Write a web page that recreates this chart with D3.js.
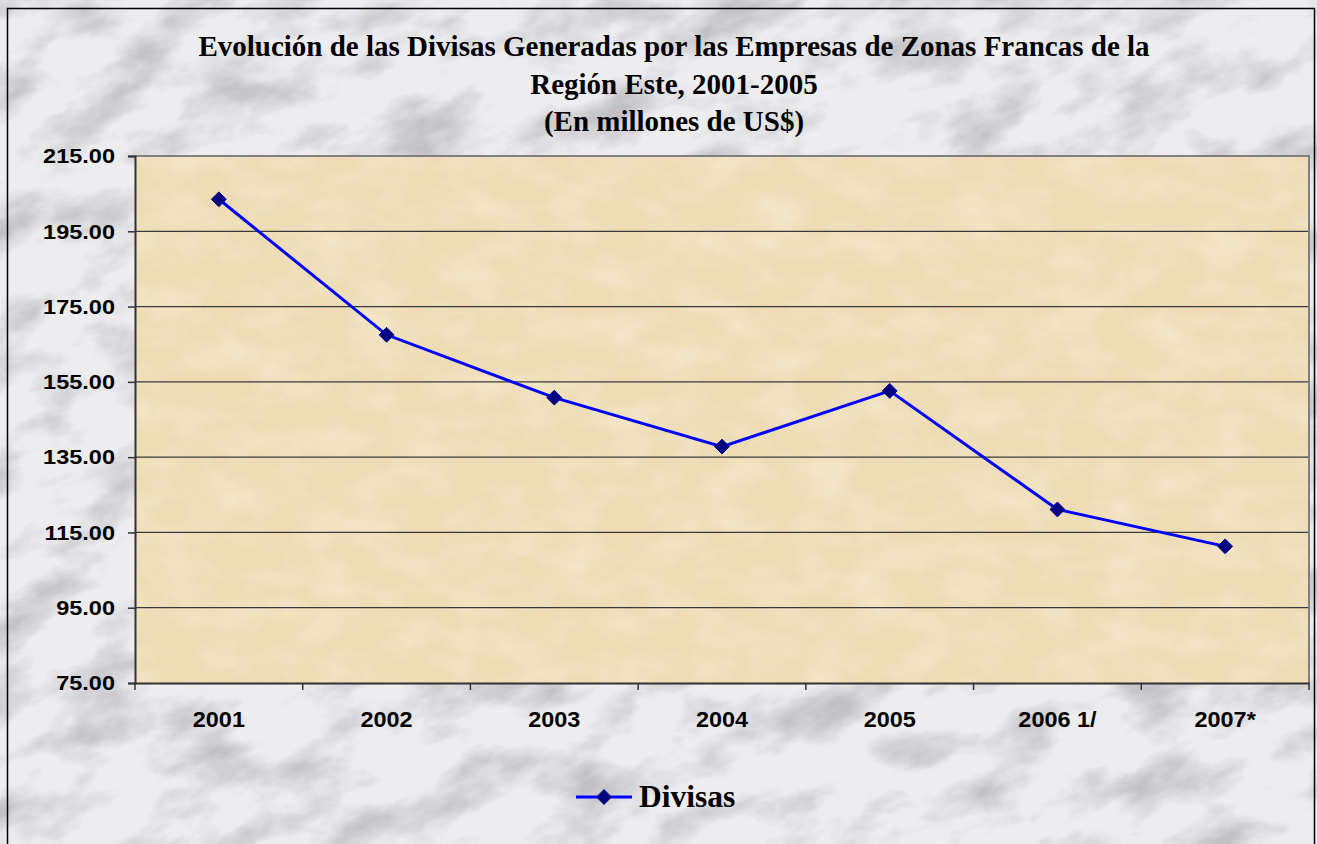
<!DOCTYPE html>
<html><head><meta charset="utf-8">
<script src="https://cdn.jsdelivr.net/npm/d3@7"></script>
<style>html,body{margin:0;padding:0;background:#fff;}svg{display:block;}</style>
</head><body>
<svg id="c" width="1317" height="844"></svg>
<script>
const categories = ["2001","2002","2003","2004","2005","2006 1/","2007*"];
const divisas = [203.5, 167.5, 150.8, 137.8, 152.6, 121.1, 111.3];
const yTicks = [75, 95, 115, 135, 155, 175, 195, 215];
const titleLines = ["Evolución de las Divisas Generadas por las Empresas de Zonas Francas de la","Región Este, 2001-2005","(En millones de US$)"];
const seriesName = "Divisas";

const svg = d3.select("#c");
const defs = svg.append("defs");
// marble texture
const fm = defs.append("filter").attr("id","marble").attr("x",0).attr("y",0).attr("width","100%").attr("height","100%");
fm.append("feTurbulence").attr("type","fractalNoise").attr("baseFrequency","0.012 0.022").attr("numOctaves",5).attr("seed",11).attr("result","n");
fm.append("feColorMatrix").attr("in","n").attr("type","matrix")
  .attr("values","0 0 0 0 0.45  0 0 0 0 0.45  0 0 0 0 0.48  -2.6 0 0 0 1.45");
// parchment texture
const fp = defs.append("filter").attr("id","parch").attr("x",0).attr("y",0).attr("width","100%").attr("height","100%");
fp.append("feTurbulence").attr("type","fractalNoise").attr("baseFrequency","0.02 0.035").attr("numOctaves",4).attr("seed",3).attr("result","n");
fp.append("feColorMatrix").attr("in","n").attr("type","matrix")
  .attr("values","0 0 0 0 0.98  0 0 0 0 0.93  0 0 0 0 0.80  -1.2 0 0 0 0.75");

svg.append("rect").attr("x",0).attr("y",0).attr("width",1317).attr("height",844).attr("fill","#ededef");
svg.append("g").attr("transform","rotate(-20 658 422)")
  .append("rect").attr("x",-300).attr("y",-300).attr("width",1917).attr("height",1444).attr("filter","url(#marble)").attr("opacity",0.75);
svg.append("rect").attr("x",7.5).attr("y",8.5).attr("width",1307).attr("height",840).attr("fill","none").attr("stroke","#000").attr("stroke-width",1.5);

const m = {l:135, t:156, r:1309, b:683};
const x = d3.scaleBand().domain(categories).range([m.l, m.r]).padding(0);
const y = d3.scaleLinear().domain([75,215]).range([m.b, m.t]);

// plot area
svg.append("rect").attr("x",m.l).attr("y",m.t).attr("width",m.r-m.l).attr("height",m.b-m.t).attr("fill","#eddcb6");
svg.append("rect").attr("x",m.l).attr("y",m.t).attr("width",m.r-m.l).attr("height",m.b-m.t).attr("filter","url(#parch)").attr("opacity",0.6);

// gridlines
svg.append("g").selectAll("line").data(yTicks.filter(d=>d>75 && d<215)).join("line")
  .attr("x1",m.l).attr("x2",m.r).attr("y1",d=>y(d)).attr("y2",d=>y(d))
  .attr("stroke","#3a3a3a").attr("stroke-width",1.2);
// plot border top/right grey
svg.append("path").attr("d",`M${m.l},${m.t}H${m.r}V${m.b}`).attr("fill","none").attr("stroke","#808080").attr("stroke-width",2);

const sx = 1.12;
// y axis
const ya = svg.append("g").attr("transform",`translate(${m.l},0)`)
  .call(d3.axisLeft(y).tickValues(yTicks).tickFormat(d3.format(".2f")).tickSize(7).tickPadding(13));
ya.select(".domain").attr("stroke","#333").attr("stroke-width",2);
ya.selectAll(".tick line").attr("stroke","#333").attr("stroke-width",1.5);
ya.selectAll("text").attr("font-family","Liberation Sans, Arial, sans-serif").attr("font-weight","bold").attr("font-size",21).attr("fill","#000")
  .attr("x",-20/sx).attr("transform",`scale(${sx},1)`);

// x axis
const xa = svg.append("g").attr("transform",`translate(0,${m.b})`)
  .call(d3.axisBottom(x).tickSize(0).tickPadding(29));
xa.select(".domain").attr("stroke","#333").attr("stroke-width",2);
xa.selectAll("text").attr("font-family","Liberation Sans, Arial, sans-serif").attr("font-weight","bold").attr("font-size",21.5).attr("fill","#000")
  .attr("transform","scale(1.09,1)");
// tick marks between categories
const bounds = categories.map(c=>x(c)).concat([m.r]);
svg.append("g").selectAll("line").data(bounds).join("line")
  .attr("x1",d=>d).attr("x2",d=>d).attr("y1",m.b).attr("y2",m.b+7)
  .attr("stroke","#333").attr("stroke-width",1.5);

// line
const cx = d => x(d) + x.bandwidth()/2;
const line = d3.line().x((d,i)=>cx(categories[i])).y(d=>y(d));
svg.append("path").datum(divisas).attr("d",line).attr("fill","none").attr("stroke","#0000ff").attr("stroke-width",3);
const diamond = d3.symbol().type(d3.symbolDiamond2).size(140);
svg.append("g").selectAll("path").data(divisas).join("path")
  .attr("d",diamond)
  .attr("transform",(d,i)=>`translate(${cx(categories[i])},${y(d)})`)
  .attr("fill","#000080").attr("stroke","#000080").attr("stroke-width",1);

// title
svg.append("g").selectAll("text").data(titleLines).join("text")
  .attr("x",674).attr("y",(d,i)=>56+i*37.5)
  .attr("text-anchor","middle")
  .attr("font-family","Liberation Serif, Times New Roman, serif").attr("font-weight","bold").attr("font-size",29)
  .text(d=>d);

// legend
const lg = svg.append("g");
lg.append("line").attr("x1",576).attr("x2",632).attr("y1",797).attr("y2",797).attr("stroke","#0000ff").attr("stroke-width",3);
lg.append("path").attr("d",diamond).attr("transform","translate(604,797)").attr("fill","#000080").attr("stroke","#000080");
lg.append("text").attr("x",639).attr("y",806.5).attr("font-family","Liberation Serif, Times New Roman, serif").attr("font-weight","bold").attr("font-size",31.5).text(seriesName);
</script>
</body></html>
